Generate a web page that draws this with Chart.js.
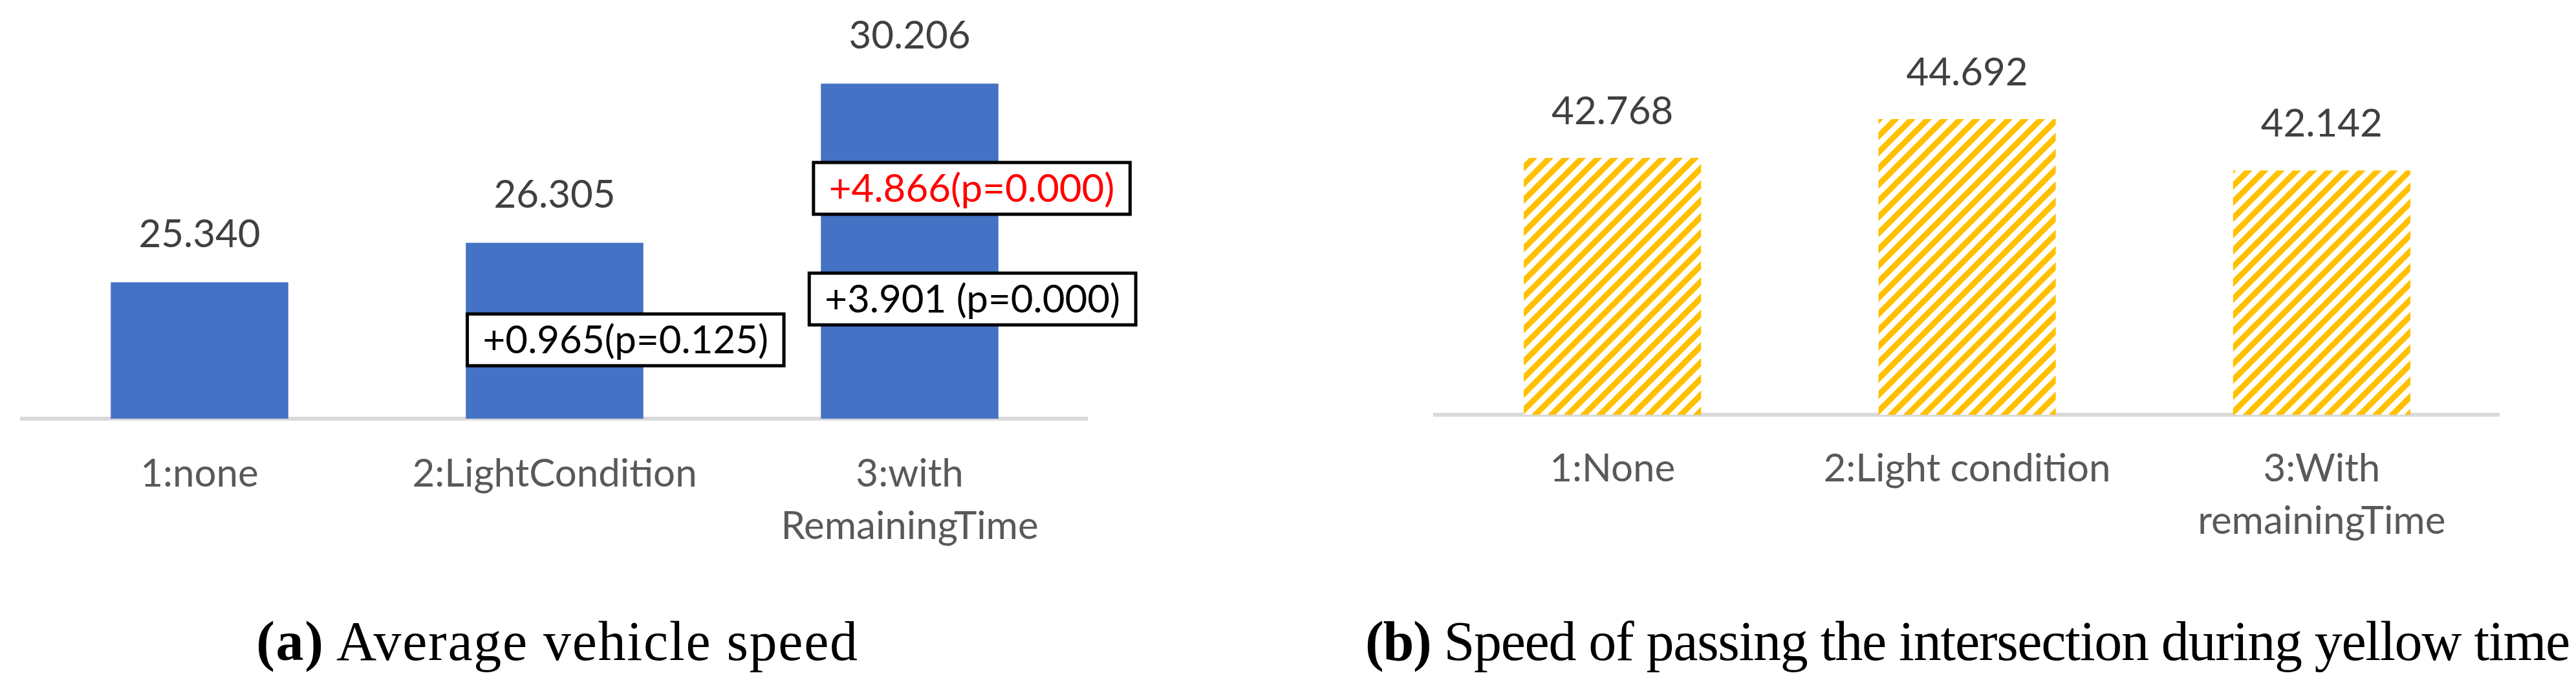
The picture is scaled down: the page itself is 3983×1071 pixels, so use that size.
<!DOCTYPE html>
<html>
<head>
<meta charset="utf-8">
<script src="https://cdn.jsdelivr.net/npm/chart.js@4.4.1/dist/chart.umd.min.js"></script>
<style>
  html, body { margin: 0; padding: 0; background: #ffffff; }
  body { width: 3983px; height: 1071px; position: relative; overflow: hidden; }
  .wrap { position: absolute; top: 0; }
  .cap { position: absolute; top: 948px; font-family: "Liberation Serif", "Times New Roman", serif;
         font-size: 86px; line-height: 86px; color: #000; white-space: nowrap; transform: translateX(-50%); }
</style>
</head>
<body>
<div class="wrap" style="left:0px;width:1990px;height:900px"><canvas id="leftChart" width="1990" height="900"></canvas></div>
<div class="wrap" style="left:1990px;width:1993px;height:900px"><canvas id="rightChart" width="1993" height="900"></canvas></div>
<div class="cap" style="left:862px;letter-spacing:1.7px"><b>(a)</b> Average vehicle speed</div>
<div class="cap" style="left:3042px;letter-spacing:-1.3px"><b>(b)</b> Speed of passing the intersection during yellow time</div>
<script>
// ---------- data ----------
const leftCategories = [['1:none'], ['2:LightCondition'], ['3:with', 'RemainingTime']];
const leftValues = [25.340, 26.305, 30.206];
const leftValueLabels = ['25.340', '26.305', '30.206'];

const rightCategories = [['1:None'], ['2:Light condition'], ['3:With', 'remainingTime']];
const rightValues = [42.768, 44.692, 42.142];
const rightValueLabels = ['42.768', '44.692', '42.142'];

const noteTexts = ['+0.965(p=0.125)', '+4.866(p=0.000)', '+3.901 (p=0.000)'];
const noteColors = ['#000000', '#FF0000', '#000000'];
const noteBars = [1, 2, 2];            // which bar each note sits on
const noteValues = [23.93, 27.64, 24.93]; // y value of the note centre

// ---------- helpers ----------
const LABEL_FONT = '60px Lato, "Open Sans", sans-serif';

function makeHatch() {
  const P = 25;
  const c = document.createElement('canvas');
  c.width = P; c.height = P;
  const g = c.getContext('2d');
  g.fillStyle = '#ffffff';
  g.fillRect(0, 0, P, P);
  g.strokeStyle = '#FFC000';
  g.lineWidth = P * 0.36;
  g.lineCap = 'square';
  for (let k = -1; k <= 1; k++) {
    g.beginPath();
    g.moveTo(k * P - P * 0.5, P + P * 0.5);
    g.lineTo(k * P + P + P * 0.5, -P * 0.5);
    g.stroke();
  }
  return g.createPattern(c, 'repeat');
}

const valueLabelPlugin = {
  id: 'valueLabels',
  afterDatasetsDraw(chart, args, opts) {
    const ctx = chart.ctx;
    const meta = chart.getDatasetMeta(0);
    ctx.save();
    ctx.font = LABEL_FONT;
    ctx.fillStyle = '#404040';
    ctx.textAlign = 'center';
    ctx.textBaseline = 'alphabetic';
    meta.data.forEach((bar, i) => {
      ctx.fillText(opts.texts[i], bar.x, bar.y - opts.gap);
    });
    ctx.restore();
  }
};

const notePlugin = {
  id: 'notes',
  afterDatasetsDraw(chart, args, opts) {
    if (!opts.texts) return;
    const ctx = chart.ctx;
    const meta = chart.getDatasetMeta(0);
    const yScale = chart.scales.y;
    ctx.save();
    ctx.font = LABEL_FONT;
    opts.texts.forEach((t, i) => {
      const bar = meta.data[opts.bars[i]];
      const w = ctx.measureText(t).width + 2 * opts.padX;
      const h = opts.boxH;
      const cx = bar.x + bar.width * opts.offsets[i];
      const cy = yScale.getPixelForValue(opts.values[i]);
      ctx.fillStyle = '#ffffff';
      ctx.fillRect(cx - w / 2, cy - h / 2, w, h);
      ctx.lineWidth = 5;
      ctx.strokeStyle = '#000000';
      ctx.strokeRect(cx - w / 2, cy - h / 2, w, h);
      ctx.fillStyle = opts.colors[i];
      ctx.textAlign = 'center';
      ctx.textBaseline = 'alphabetic';
      ctx.fillText(t, cx, cy + 21);
    });
    ctx.restore();
  }
};

function baseOptions(cfg) {
  return {
    responsive: false,
    animation: false,
    devicePixelRatio: 1,
    layout: { padding: cfg.padding },
    plugins: {
      legend: { display: false },
      tooltip: { enabled: false },
      title: { display: false },
      valueLabels: { texts: cfg.valueTexts, gap: cfg.gap },
      notes: cfg.notes || {}
    },
    scales: {
      x: {
        z: 1,
        grid: { display: false, drawTicks: false },
        border: { display: true, color: '#D9D9D9', width: 6 },
        ticks: {
          color: '#595959',
          font: { family: 'Lato, "Open Sans", sans-serif', size: 60, lineHeight: 1.35 },
          padding: cfg.tickPad,
          maxRotation: 0,
          autoSkip: false
        },
        afterFit(scale) { scale.height = 900 - cfg.bottom; }
      },
      y: {
        display: false,
        min: cfg.min,
        max: cfg.max
      }
    }
  };
}

function build() {
  new Chart(document.getElementById('leftChart'), {
    type: 'bar',
    data: {
      labels: leftCategories,
      datasets: [{
        data: leftValues,
        backgroundColor: '#4472C4',
        borderWidth: 0,
        categoryPercentage: 1.0,
        barPercentage: 0.5
      }]
    },
    options: baseOptions({
      padding: { left: 34, right: 309, top: 16, bottom: 0 },
      bottom: 647, min: 22, max: 32, tickPad: 45, gap: 54,
      valueTexts: leftValueLabels,
      notes: { texts: noteTexts, colors: noteColors, bars: noteBars, values: noteValues,
               offsets: [0.40, 0.35, 0.354], padX: 24, boxH: 80 }
    }),
    plugins: [valueLabelPlugin, notePlugin]
  });

  new Chart(document.getElementById('rightChart'), {
    type: 'bar',
    data: {
      labels: rightCategories,
      datasets: [{
        data: rightValues,
        backgroundColor: makeHatch(),
        borderWidth: 0,
        categoryPercentage: 1.0,
        barPercentage: 0.5
      }]
    },
    options: baseOptions({
      padding: { left: 229, right: 119, top: 19, bottom: 0 },
      bottom: 641, min: 30, max: 50, tickPad: 43, gap: 52,
      valueTexts: rightValueLabels
    }),
    plugins: [valueLabelPlugin, notePlugin]
  });
}

if (document.fonts && document.fonts.load) {
  Promise.all([document.fonts.load(LABEL_FONT), document.fonts.load('86px "Liberation Serif"')])
    .then(build, build);
} else {
  build();
}
</script>
</body>
</html>
